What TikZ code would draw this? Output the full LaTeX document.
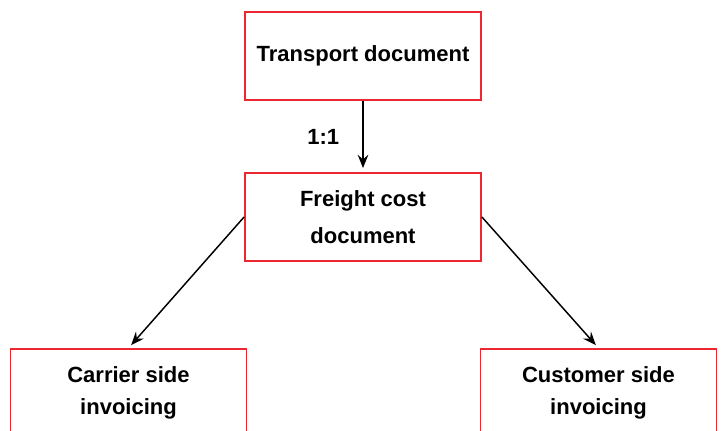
\documentclass[tikz,border=0pt]{standalone}
\usepackage{fontspec}
\setmainfont{Liberation Sans}
\usepackage{tikz}
\usetikzlibrary{positioning, arrows.meta}

\definecolor{boxred}{RGB}{235,40,50}

\tikzset{
    docbox/.style={draw=boxred, line width=1.4pt, minimum width=177pt, minimum height=66pt, align=center, font=\bfseries\fontsize{16.5}{28}\selectfont},
    link/.style={-{Stealth[length=10pt, width=8pt, inset=3.5pt]}, line width=1.1pt, shorten >=3pt}
}

\begin{document}
\begin{tikzpicture}[x=0.75pt, y=-0.75pt]
        \useasboundingbox (0,0) rectangle (723,430);
        \node[docbox] (transport) at (363,56) {Transport document};
        \node[docbox] (freight) at (363,217) {Freight cost\\document};
        \node[docbox, font=\bfseries\fontsize{16.5}{24}\selectfont] (carrier) at (128.5,393) {Carrier side\\invoicing};
        \node[docbox, font=\bfseries\fontsize{16.5}{24}\selectfont] (customer) at (598.5,393) {Customer side\\invoicing};
        \draw[link] (transport) -- node[left=14pt, font=\bfseries\fontsize{16.5}{20}\selectfont] {1:1} (freight);
        \draw[link] (freight.west) -- (carrier.north);
        \draw[link] (freight.east) -- (customer.north);
    \end{tikzpicture}
\end{document}
